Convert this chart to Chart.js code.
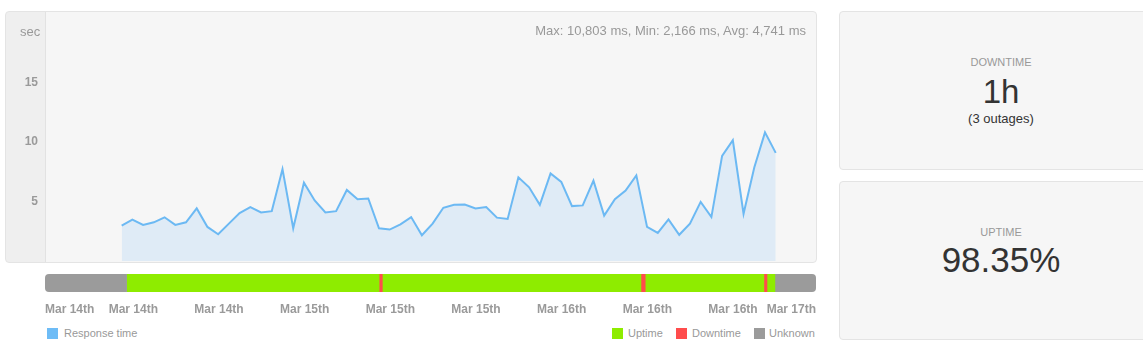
<!DOCTYPE html>
<html>
<head>
<meta charset="utf-8">
<script src="https://cdn.jsdelivr.net/npm/chart.js@4.4.1/dist/chart.umd.min.js"></script>
<style>
  body { margin: 0; width: 1143px; height: 347px; overflow: hidden; background: #fff; position: relative;
         font-family: "Liberation Sans", Arial, sans-serif; }
  .abs { position: absolute; }
  .panel { position: absolute; box-sizing: border-box; border: 1px solid #e4e4e4; border-radius: 4px; background: #f6f6f6; }
  #chart-panel { left: 5px; top: 11px; width: 812px; height: 252px;
                 background: linear-gradient(to right, #efefef 39px, #e2e2e2 39px, #e2e2e2 40px, #f6f6f6 40px); }
  #response-canvas { position: absolute; left: 5px; top: 11px; }
  #status-canvas { position: absolute; left: 45px; top: 274px; }
  .grey { color: #999; }
  .swatch { position: absolute; width: 11px; height: 11px; }
  .legend-text { position: absolute; font-size: 11px; line-height: 14px; color: #999; white-space: nowrap; }
  .box-title { position: absolute; left: 0; width: 100%; text-align: center; font-size: 11px; line-height: 16px; color: #999; }
  .box-value { position: absolute; left: 0; width: 100%; text-align: center; color: #333; white-space: nowrap; }
</style>
</head>
<body>

<div class="panel" id="chart-panel"></div>
<canvas id="response-canvas" width="812" height="252"></canvas>
<div class="abs grey" style="left:20px; top:24px; font-size:13px; line-height:16px;">sec</div>
<div class="abs grey" style="left:480px; top:23px; width:326px; text-align:right; font-size:13px; line-height:16px;">Max: 10,803 ms, Min: 2,166 ms, Avg: 4,741 ms</div>

<canvas id="status-canvas" width="771" height="41"></canvas>

<div class="swatch" style="left:47px; top:328px; background:#6ebcf6;"></div>
<div class="legend-text" style="left:64px; top:326px;">Response time</div>
<div class="swatch" style="left:612px; top:328px; background:#8eec00;"></div>
<div class="legend-text" style="left:628px; top:326px;">Uptime</div>
<div class="swatch" style="left:676px; top:328px; background:#ff4c4c;"></div>
<div class="legend-text" style="left:692px; top:326px;">Downtime</div>
<div class="swatch" style="left:754px; top:328px; background:#9b9b9b;"></div>
<div class="legend-text" style="left:769px; top:326px;">Unknown</div>

<div class="panel" style="left:839px; top:11px; width:324px; height:159px;">
  <div class="box-title" style="top:42px;">DOWNTIME</div>
  <div class="box-value" style="top:60px; font-size:33px; line-height:40px;">1h</div>
  <div class="box-value" style="top:99px; font-size:13px; line-height:16px;">(3 outages)</div>
</div>
<div class="panel" style="left:839px; top:181px; width:324px; height:159px;">
  <div class="box-title" style="top:42px;">UPTIME</div>
  <div class="box-value" style="top:58px; font-size:35px; line-height:40px;">98.35%</div>
</div>

<script>
'use strict'

// response time, one sample per hour (seconds)
let firstHour = 7.15;
let responseSec = [2.97, 3.47, 3.03, 3.25, 3.67, 3.03, 3.25, 4.42, 2.86, 2.25,
  3.14, 4.03, 4.53, 4.08, 4.19, 7.72, 2.75, 6.58, 5.08, 4.08,
  4.19, 5.97, 5.19, 5.25, 2.75, 2.64, 3.08, 3.69, 2.166, 3.14,
  4.47, 4.72, 4.75, 4.42, 4.53, 3.64, 3.53, 7.03, 6.19, 4.72,
  7.36, 6.64, 4.61, 4.67, 6.75, 3.81, 5.19, 5.92, 7.19, 2.86,
  2.36, 3.5, 2.2, 3.14, 4.97, 3.69, 8.83, 10.14, 3.97, 7.86,
  10.803, 9.08];
let yTickValues = [5, 10, 15];

// status bar segments (hours since Mar 14th 00:00)
let segStatus = ['Unknown', 'Uptime', 'Downtime', 'Uptime', 'Downtime', 'Uptime', 'Downtime', 'Uptime', 'Unknown'];
let segEnds = [7.62, 31.2, 31.5, 55.65, 56.05, 67.13, 67.42, 68.16, 72];
let tickHours = [0, 8.25, 16.25, 24.25, 32.25, 40.25, 48.25, 56.25, 64.25, 72];
let tickLabels = ['Mar 14th', 'Mar 14th', 'Mar 14th', 'Mar 15th', 'Mar 15th', 'Mar 15th',
  'Mar 16th', 'Mar 16th', 'Mar 16th', 'Mar 17th'];

let statusColors = { Uptime: '#8eec00', Downtime: '#ff4c4c', Unknown: '#9b9b9b' };
let totalHours = 72;

let points = [];
for (let i = 0; i < responseSec.length; i++) {
  points.push({ x: firstHour + i, y: responseSec[i] });
}

let responseChart = new Chart(document.getElementById('response-canvas').getContext('2d'), {
  type: 'line',
  data: {
    datasets: [{
      label: 'Response time',
      data: points,
      borderColor: '#6cb9f3',
      borderWidth: 2,
      backgroundColor: '#dfebf6',
      fill: 'origin',
      pointRadius: 0,
      tension: 0,
    }],
  },
  options: {
    responsive: false,
    animation: false,
    layout: { padding: { top: 0, bottom: 2, left: 0, right: 0 } },
    plugins: { legend: { display: false }, tooltip: { enabled: false } },
    scales: {
      x: { type: 'linear', min: 0, max: totalHours, display: false },
      y: {
        min: 0,
        max: 21,
        afterFit: function (axis) {
          axis.width = 40;
          axis.paddingTop = 0;
          axis.paddingBottom = 0;
        },
        afterBuildTicks: function (axis) {
          axis.ticks = yTickValues.map(v => ({ value: v }));
        },
        grid: { display: false, drawTicks: false },
        border: { display: false },
        ticks: {
          padding: 7,
          color: '#9a9a9a',
          font: { family: '"Liberation Sans", Arial, sans-serif', size: 12, weight: 'bold' },
        },
      },
    },
  },
});

// clip the status bar to a rounded rectangle
let roundBar = {
  id: 'roundBar',
  beforeDatasetsDraw(chart) {
    let a = chart.chartArea;
    let ctx = chart.ctx;
    ctx.save();
    ctx.beginPath();
    ctx.roundRect(a.left, a.top, a.right - a.left, a.bottom - a.top, 4);
    ctx.clip();
  },
  afterDatasetsDraw(chart) {
    chart.ctx.restore();
  },
};

let segDatasets = [];
let segStart = 0;
for (let i = 0; i < segStatus.length; i++) {
  segDatasets.push({
    label: segStatus[i],
    data: [[segStart, segEnds[i]]],
    backgroundColor: statusColors[segStatus[i]],
    borderWidth: 0,
    grouped: false,
    barPercentage: 1,
    categoryPercentage: 1,
  });
  segStart = segEnds[i];
}

let statusChart = new Chart(document.getElementById('status-canvas').getContext('2d'), {
  type: 'bar',
  data: { labels: ['status'], datasets: segDatasets },
  plugins: [roundBar],
  options: {
    indexAxis: 'y',
    responsive: false,
    animation: false,
    layout: { padding: 0 },
    plugins: { legend: { display: false }, tooltip: { enabled: false } },
    scales: {
      y: { display: false },
      x: {
        type: 'linear',
        min: 0,
        max: totalHours,
        afterFit: function (axis) {
          axis.height = 23;
          axis.paddingLeft = 0;
          axis.paddingRight = 0;
        },
        afterBuildTicks: function (axis) {
          axis.ticks = tickHours.map(v => ({ value: v }));
        },
        grid: { display: false, drawTicks: false },
        border: { display: false },
        ticks: {
          align: 'inner',
          autoSkip: false,
          maxRotation: 0,
          padding: 10,
          color: '#9a9a9a',
          font: { family: '"Liberation Sans", Arial, sans-serif', size: 12, weight: 'bold' },
          callback: function (value, index) { return tickLabels[index]; },
        },
      },
    },
  },
});
</script>
</body>
</html>
